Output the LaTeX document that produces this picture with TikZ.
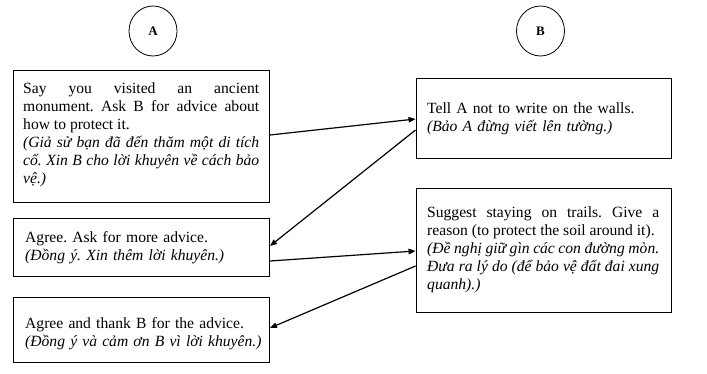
\documentclass[tikz,border=0pt]{standalone}
\usepackage{fontspec}
\setmainfont{Liberation Serif}
\usetikzlibrary{arrows.meta,shapes.geometric}
\frenchspacing
\begin{document}
\begin{tikzpicture}[x=1pt,y=1pt,
  box/.style={draw, line width=0.9pt, rectangle, inner sep=0pt},
  txt/.style={anchor=north west, inner sep=0pt, align=justify,
    font=\fontsize{15.6}{18}\selectfont\frenchspacing, execute at begin node=\strut},
  person/.style={draw, line width=0.8pt, ellipse, minimum width=48pt, minimum height=50pt, inner sep=0pt, font=\fontsize{13}{15}\selectfont\bfseries},
  conn/.style={line width=1.2pt, -{Triangle[length=7pt,width=5.5pt]}}]
\useasboundingbox (0,0) rectangle (707,-373);
% persons
\node[person] (pa) at (153,-31) {A};
\node[person] (pb) at (540.5,-31) {B};
% boxes
\node[box, minimum width=256pt, minimum height=132pt] (a1) at (141.5,-136) {};
\node[box, minimum width=256pt, minimum height=58pt] (a2) at (141.5,-247) {};
\node[box, minimum width=256pt, minimum height=65pt] (a3) at (141.5,-329.5) {};
\node[box, minimum width=255pt, minimum height=80pt] (b1) at (543.5,-118) {};
\node[box, minimum width=255pt, minimum height=124pt] (b2) at (543.5,-250) {};
% texts
\node[txt, text width=236pt] (ta1) at (23,-80.4) {Say you visited an ancient\linebreak monument. Ask B for advice about\linebreak how to protect it.\\ \textit{(Giả sử bạn đã đến thăm một di tích\linebreak cổ. Xin B cho lời khuyên về cách bảo\linebreak vệ.)}};
\node[txt, text width=243pt, align=left] (ta2) at (25,-229.4) {Agree. Ask for more advice.\\ \textit{(Đồng ý. Xin thêm lời khuyên.)}};
\node[txt, text width=243pt, align=left] (ta3) at (25,-315.4) {Agree and thank B for the advice.\\ \textit{(Đồng ý và cảm ơn B vì lời khuyên.)}};
\node[txt, text width=238pt, align=left] (tb1) at (427,-100.7) {Tell A not to write on the walls.\\ \textit{(Bảo A đừng viết lên tường.)}};
\node[txt, text width=232pt] (tb2) at (427,-204.4) {Suggest staying on trails. Give a\linebreak reason (to protect the soil around it).\\ \textit{(Đề nghị giữ gìn các con đường mòn.\linebreak Đưa ra lý do (để bảo vệ đất đai xung\linebreak quanh).)}};
% connectors
\draw[conn] ([yshift=1pt]a1.east) -- ([yshift=-1pt]b1.west);
\draw[conn] ([yshift=-12pt]b1.west) -- ([yshift=1pt]a2.east);
\draw[conn] ([yshift=-14pt]a2.east) -- ([yshift=-1pt]b2.west);
\draw[conn] ([yshift=-16pt]b2.west) -- ([yshift=1.5pt]a3.east);
\end{tikzpicture}
\end{document}
